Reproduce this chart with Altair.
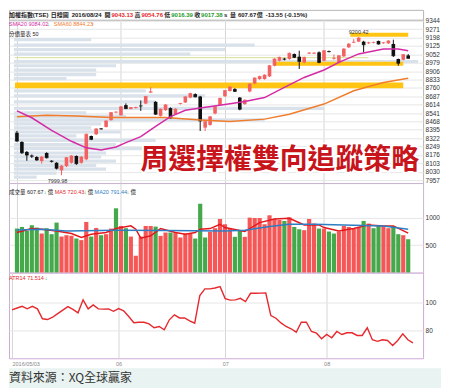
import altair as alt
import pandas as pd

# ---------------- data ----------------
opens = [8370, 8289, 8202, 8170, 8158, 8123, 8193, 8125, 8108, 8042,
         8079, 8108, 8167, 8108, 8138, 8341, 8356, 8405, 8420, 8479,
         8548, 8522, 8610, 8577, 8585, 8604, 8624, 8720, 8639, 8517,
         8566, 8584, 8531, 8620, 8633, 8676, 8706, 8685, 8414, 8438,
         8537, 8612, 8687, 8733, 8750, 8676, 8619, 8729, 8799, 8837,
         8837, 8860, 8953, 8997, 9014, 9012, 9055, 9032, 8982, 9060,
         9060, 9070, 8997, 9080, 9015, 8982, 9035, 9113, 9155, 9163,
         9163, 9150, 9155, 9169, 9150, 9148, 9143, 9012, 9005, 9043.13]
highs = [8385, 8295, 8210, 8180, 8165, 8165, 8200, 8130, 8112, 8090,
         8158, 8175, 8172, 8165, 8362, 8345, 8408, 8410, 8478, 8550,
         8556, 8602, 8625, 8594, 8596, 8650, 8690, 8765, 8645, 8580,
         8618, 8590, 8582, 8630, 8688, 8718, 8712, 8690, 8472, 8515,
         8600, 8675, 8742, 8775, 8758, 8680, 8660, 8800, 8852, 8866,
         8878, 8960, 9018, 9032, 9022, 9068, 9060, 9084, 9032, 9072,
         9070, 9078, 9090, 9085, 9050, 9046, 9106, 9150, 9185, 9200.42,
         9170, 9162, 9163, 9172, 9160, 9175, 9180, 9015, 9056, 9054.76]
lows = [8290, 8185, 8125, 8150, 8125, 8100, 8145, 8110, 8050, 7999.98,
        8070, 8100, 8090, 8100, 8130, 8305, 8350, 8398, 8415, 8475,
        8540, 8518, 8575, 8572, 8580, 8560, 8618, 8715, 8525, 8510,
        8560, 8490, 8525, 8615, 8628, 8670, 8678, 8385, 8385, 8430,
        8530, 8608, 8682, 8728, 8725, 8565, 8612, 8722, 8792, 8830,
        8832, 8855, 8948, 8990, 9000, 9005, 9020, 8925, 8975, 9055,
        9055, 8975, 8990, 9070, 9005, 8975, 9030, 9108, 9150, 9158,
        9070, 9143, 9148, 9138, 9145, 9143, 9030, 8953, 9000, 9016.39]
closes = [8298, 8196, 8175, 8165, 8132, 8158, 8152, 8120, 8060, 8079,
          8152, 8167, 8100, 8158, 8356, 8312, 8403, 8402, 8472, 8545,
          8550, 8595, 8580, 8589, 8590, 8602, 8685, 8726, 8531, 8575,
          8612, 8496, 8575, 8624, 8682, 8711, 8682, 8472, 8466, 8508,
          8595, 8668, 8737, 8768, 8730, 8575, 8653, 8793, 8846, 8860,
          8872, 8953, 9012, 9026, 9010, 9061, 9026, 8991, 9026, 9064,
          9064, 8982, 9084, 9076, 9018, 9040, 9099, 9142, 9158, 9195,
          9136, 9153, 9156, 9142, 9153, 9169, 9040, 8975, 9050, 9017.38]

volumes = [802, 832, 760, 863, 820, 712, 809, 700, 911, 657,
           682, 670, 621, 592, 923, 657, 814, 682, 700, 802,
           1171, 850, 809, 657, 308, 657, 850, 850, 838, 670,
           730, 730, 720, 640, 712, 712, 621, 1254, 640, 745,
           809, 977, 881, 802, 652, 773, 652, 1001, 995, 995,
           881, 1044, 977, 959, 941, 1007, 832, 790, 773, 977,
           893, 802, 802, 748, 712, 748, 850, 832, 809, 832,
           941, 893, 809, 850, 838, 809, 850, 700, 682, 608]
vol_dir = ["g", "g", "g", "g", "g", "r", "g", "g", "g", "r",
           "r", "r", "g", "r", "r", "g", "r", "g", "r", "r",
           "g", "r", "g", "r", "r", "r", "r", "r", "g", "r",
           "r", "g", "r", "r", "r", "r", "g", "g", "g", "r",
           "r", "r", "r", "r", "g", "g", "r", "r", "r", "r",
           "r", "r", "r", "r", "g", "r", "g", "g", "r", "r",
           "r", "g", "r", "g", "g", "r", "r", "r", "r", "r",
           "g", "r", "g", "g", "r", "r", "g", "g", "r", "g"]

atr14 = [94.7, 96, 97.2, 95.4, 97.2, 95.4, 88.4, 87.9, 89.5, 92,
         94.5, 97, 95, 92.6, 101.7, 95.4, 98.2, 95.4, 95.2, 95.4,
         93.7, 95.6, 94, 90, 85.6, 86, 86, 84.8, 82.1, 83,
         80.7, 87.7, 91.2, 89, 89, 87, 85.3, 104.7, 109.4, 109.4,
         110, 111, 102.6, 101.5, 101.7, 102.8, 100.5, 106.3, 106.3, 106.4,
         106.5, 90.7, 88.8, 85.5, 83, 81.4, 79, 86, 86, 79.5,
         78.3, 74.4, 77.4, 75.1, 79.5, 77.4, 78.6, 78.6, 76.7, 76.7,
         82.1, 73.7, 72.6, 73.7, 73.2, 69.7, 73.2, 77.9, 73.7, 71.5]

sma20_i = [0, 3, 7, 11, 14, 17, 20, 22, 25, 28, 31, 34, 37, 42, 46, 50, 54, 58, 62, 65, 69, 74, 77, 79]
sma20_v = [8560, 8500, 8390, 8295, 8238, 8220, 8245, 8283, 8335, 8425, 8510, 8565, 8584, 8615,
           8641, 8676, 8764, 8851, 8916, 8982, 9056, 9099, 9099, 9084.02]
sma60_i = [0, 6, 12, 19, 30, 37, 43, 50, 55, 62, 68, 74, 79]
sma60_v = [8508, 8522, 8516, 8502, 8502, 8481, 8467, 8488, 8531, 8619, 8735, 8807, 8844.23]

vma5_i = [0, 3, 5, 8, 11, 13, 15, 18, 20, 23, 24, 25, 27, 29, 32, 34, 36, 37, 39, 41,
          42, 46, 49, 52, 55, 58, 61, 62, 65, 68, 71, 74, 76, 79]
vma5_v = [730, 802, 790, 760, 712, 640, 700, 730, 802, 851, 790, 628, 670, 802, 730, 700, 730, 790, 802, 881,
          820, 748, 911, 977, 990, 869, 869, 820, 760, 802, 869, 850, 850, 720.43]
vma20_i = [0, 5, 10, 20, 30, 42, 46, 51, 55, 60, 68, 74, 79]
vma20_v = [778, 790, 760, 770, 765, 760, 772, 840, 881, 881, 863, 851, 791.44]

profile_price = [9181, 9133, 9093, 9054, 8988, 8953, 8914, 8875, 8840, 8735,
                 8691, 8639, 8582, 8543, 8512, 8481, 8446, 8411, 8376, 8342,
                 8302, 8267, 8232, 8193, 8158, 8123, 8084, 8053, 8018, 7983]
profile_len = [15, 48, 42, 35, 81, 20, 16, 16, 10, 26,
               38, 28, 62, 14, 22, 50, 17, 15, 21, 12,
               28, 20, 27, 18, 17, 20, 16, 18, 8, 4]

gold_lo = [8758, 8953, 9205]
gold_hi = [8807, 8988, 9240]
gold_from = [-0.4, 52, 67.3]
gold_to = [78, 78, 79]
pale_lo = [9018]
pale_hi = [9030]
pale_from = [-0.4]
pale_to = [71]

price_ticks = [7957, 8030, 8103, 8176, 8249, 8322, 8395, 8468, 8541, 8614,
               8687, 8760, 8833, 8906, 8979, 9052, 9125, 9198, 9271, 9344]
vol_ticks = [500, 1000]
atr_ticks = [80, 100]
month_i = [0, 21, 42, 62]
month_lbl = ["2016/05/03", "06", "07", "08"]

mark_i = [9, 69]
mark_v = [7999.98, 9200.42]
mark_t = ["7999.98", "9200.42"]

# ---------------- tables ----------------
N = len(opens)
candles = pd.DataFrame({"i": list(range(N)), "o": opens, "h": highs, "l": lows, "c": closes})
candles["up"] = [c >= o for o, c in zip(opens, closes)]
up_c = candles[candles["up"]]
dn_c = candles[~candles["up"]]
vol = pd.DataFrame({"i": list(range(N)), "v": volumes, "d": vol_dir})
vol_r = vol[vol["d"] == "r"]
vol_g = vol[vol["d"] == "g"]
atr = pd.DataFrame({"i": list(range(N)), "a": atr14})
s20 = pd.DataFrame({"i": sma20_i, "v": sma20_v})
s60 = pd.DataFrame({"i": sma60_i, "v": sma60_v})
v5 = pd.DataFrame({"i": vma5_i, "v": vma5_v})
v20 = pd.DataFrame({"i": vma20_i, "v": vma20_v})
prof = pd.DataFrame({"lo": [p - 14 for p in profile_price], "hi": [p + 14 for p in profile_price],
                     "x0": [-0.6] * len(profile_price), "x1": profile_len})
gold = pd.DataFrame({"lo": gold_lo, "hi": gold_hi, "x0": gold_from, "x1": gold_to})
pale = pd.DataFrame({"lo": pale_lo, "hi": pale_hi, "x0": pale_from, "x1": pale_to})
marks = pd.DataFrame({"i": mark_i, "v": mark_v, "t": mark_t})

# ---------------- styling ----------------
W = 416
XDOM = [-0.6, 81.0]
LAT = "Liberation Sans"
MIX = "Liberation Sans, Noto Sans CJK TC"
CJK = "Noto Sans CJK TC"

xscale = alt.Scale(domain=XDOM, nice=False, zero=False)
xaxis_hidden = alt.Axis(values=month_i, labels=False, ticks=False, domain=False, grid=True,
                        gridColor="#d6d6d6", title=None)
lbl_expr = " : ".join(f"datum.value == {m} ? '{t}'" for m, t in zip(month_i, month_lbl)) + " : ''"
xaxis_lab = alt.Axis(values=month_i, labelExpr=lbl_expr, ticks=False, domain=False, grid=True,
                     gridColor="#d6d6d6", title=None, labelFontSize=5.5, labelColor="#888",
                     labelFlush=5, labelPadding=3, labelFont=LAT)


def X(f, axis=xaxis_hidden):
    return alt.X(f, type="quantitative", scale=xscale, axis=axis)


def yaxis(vals, grid="#e6e6e6"):
    return alt.Axis(orient="right", values=vals, grid=True, gridColor=grid, ticks=False, domain=False,
                    labelFontSize=6.5, labelColor="#333", labelPadding=2, title=None, format="d",
                    labelFont=LAT)


PS = alt.Scale(domain=[7931, 9353], nice=False, zero=False)
VS = alt.Scale(domain=[0, 1630], nice=False)
AS = alt.Scale(domain=[60.7, 120.8], nice=False, zero=False)


def PY(f):
    return alt.Y(f, type="quantitative", scale=PS, axis=yaxis(price_ticks))


def VY(f):
    return alt.Y(f, type="quantitative", scale=VS, axis=yaxis(vol_ticks))


def AY(f):
    return alt.Y(f, type="quantitative", scale=AS, axis=yaxis(atr_ticks))


def txt(s, x, y, color, size=6, bold=False, font=MIX, align="left", **kw):
    return alt.Chart(pd.DataFrame({"t": [s]})).mark_text(
        align=align, baseline="middle", fontSize=size, fontWeight="bold" if bold else "normal",
        font=font, color=color, **kw).encode(x=alt.value(x), y=alt.value(y), text="t:N")


RED = "#e8262a"
GRN = "#1f9a2e"
DARK = "#222222"
UPC = "#f36262"
DNC = "#111111"

# ---------------- header row ----------------
head_segs = [("加權指數(TSE)", 0, DARK), ("日線圖", 42, DARK), ("2016/08/24", 63, DARK),
             ("開", 96, DARK), ("9043.13", 103, RED), ("高", 126, DARK), ("9054.76", 133, RED),
             ("低", 156, DARK), ("9016.39", 163, GRN), ("收", 186, DARK), ("9017.38", 193, GRN),
             ("s", 216, DARK), ("量", 222, DARK), ("607.67", 230, DARK), ("億", 249, DARK),
             ("-13.55 (-0.15%)", 258, DARK)]
header = alt.layer(*[txt(s, x, 5, c, size=6, bold=True) for s, x, c in head_segs]).properties(
    width=W, height=10, view=alt.ViewBackground(fill="white", stroke="#b5b5b5"))

# ---------------- price panel ----------------
p_prof = alt.Chart(prof).mark_rect(color="#d9e2ea", clip=True).encode(x=X("x0"), x2="x1", y=PY("lo"), y2="hi")
p_gold = alt.Chart(gold).mark_rect(color="#ffc512", clip=True).encode(x=X("x0"), x2="x1", y=PY("lo"), y2="hi")
p_pale = alt.Chart(pale).mark_rect(color="#dfe5a6", clip=True).encode(x=X("x0"), x2="x1", y=PY("lo"), y2="hi")
layers = [p_prof, p_gold, p_pale]
for df, col in ((up_c, UPC), (dn_c, DNC)):
    layers.append(alt.Chart(df).mark_rule(strokeWidth=1, color=col).encode(x=X("i"), y=PY("l"), y2="h"))
    layers.append(alt.Chart(df).mark_bar(size=3.6, color=col).encode(x=X("i"), y=PY("o"), y2="c"))
    layers.append(alt.Chart(df).mark_tick(orient="horizontal", size=3.6, thickness=1, color=col).encode(
        x=X("i"), y=PY("c")))
layers.append(alt.Chart(s60).mark_line(color="#ef7d2c", strokeWidth=1.5).encode(x=X("i"), y=PY("v")))
layers.append(alt.Chart(s20).mark_line(color="#d42aa6", strokeWidth=1.5).encode(x=X("i"), y=PY("v")))
layers.append(alt.Chart(marks.iloc[[0]]).mark_text(fontSize=5.5, font=LAT, color="#333", dy=6, dx=-4).encode(
    x=X("i"), y=PY("v"), text="t:N"))
layers.append(alt.Chart(marks.iloc[[1]]).mark_text(fontSize=5.5, font=LAT, color="#333", dy=-5).encode(
    x=X("i"), y=PY("v"), text="t:N"))
layers += [
    txt("SMA20 9084.02", 0, 4, "#d42aa6", size=5.5),
    txt("↓", 38, 4, GRN, size=5.5),
    txt("SMA60 8844.23", 45, 4, "#ef7d2c", size=5.5),
    txt("↑", 83, 4, RED, size=5.5),
    txt("分價量表 50", 0, 14, DARK, size=5.5),
    txt("周選擇權雙向追蹤策略", 272, 142, "white", size=28, bold=True, font=CJK, align="center",
        stroke="white", strokeWidth=4),
    txt("周選擇權雙向追蹤策略", 272, 142, "#c8151c", size=28, bold=True, font=CJK, align="center"),
]
price = alt.layer(*layers).properties(
    width=W, height=164, view=alt.ViewBackground(fill="white", stroke="#b5b5b5"))

# ---------------- volume panel ----------------
v_r = alt.Chart(vol_r).mark_bar(size=4.2, color="#f55757").encode(x=X("i"), y=VY("v"))
v_g = alt.Chart(vol_g).mark_bar(size=4.2, color="#45a94b").encode(x=X("i"), y=VY("v"))
v_ma5 = alt.Chart(v5).mark_line(color="#e4181c", strokeWidth=1.5).encode(x=X("i"), y=VY("v"))
v_ma20 = alt.Chart(v20).mark_line(color="#2e7ec4", strokeWidth=1.5).encode(x=X("i"), y=VY("v"))
v_texts = [
    txt("成交量 607.67", 0, 9, DARK, size=5.5), txt("↓", 35, 9, GRN, size=5.5), txt("億", 39, 9, DARK, size=5.5),
    txt("MA5 720.43", 46, 9, RED, size=5.5), txt("↓", 75, 9, GRN, size=5.5), txt("億", 79, 9, DARK, size=5.5),
    txt("MA20 791.44", 86, 9, "#2e7ec4", size=5.5), txt("↓", 118, 9, GRN, size=5.5),
    txt("億", 122, 9, DARK, size=5.5),
]
volume = alt.layer(v_r, v_g, v_ma5, v_ma20, *v_texts).properties(
    width=W, height=90, view=alt.ViewBackground(fill="white", stroke="#c9b3cf"))

# ---------------- ATR panel ----------------
a_line = alt.Chart(atr).mark_line(color="#e5292d", strokeWidth=1.4).encode(x=X("i", xaxis_lab), y=AY("a"))
a_texts = [txt("ATR14 71.514", 0, 5, RED, size=5.5), txt("↓", 36, 5, GRN, size=5.5)]
atrp = alt.layer(a_line, *a_texts).properties(
    width=W, height=86, view=alt.ViewBackground(fill="white", stroke="#cfa9d6"))

# ---------------- footer ----------------
f_bg = alt.Chart(pd.DataFrame({"t": ["bg"]})).mark_rect(color="#e9f3f1").encode(
    x=alt.value(0), x2=alt.value(434), y=alt.value(10), y2=alt.value(30))
f_txt = txt("資料來源：XQ全球贏家", 0, 20, "#333333", size=12, font=CJK)
footer = alt.layer(f_bg, f_txt).properties(
    width=W, height=30, view=alt.ViewBackground(fill="transparent", stroke="transparent"))

chart = alt.vconcat(header, price, volume, atrp, footer, spacing=0, bounds="flush").properties(
    padding=0).configure(background="white")

chart.save("out.html", embed_options={"renderer": "svg", "actions": False})
